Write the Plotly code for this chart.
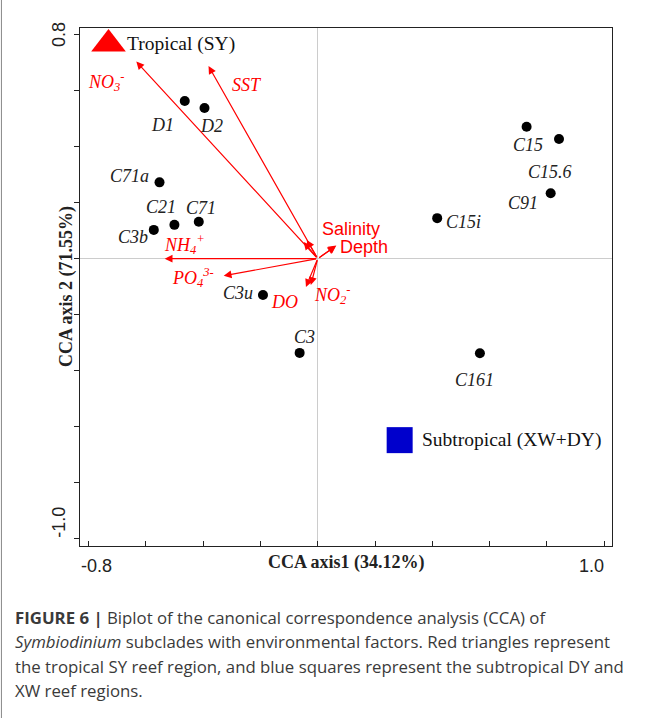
import plotly.graph_objects as go

# Subclade scores (CCA axis 1, CCA axis 2)
subclades = ["D1", "D2", "C71a", "C21", "C71", "C3b", "C3u", "C3",
             "C15i", "C15", "C15.6", "C91", "C161"]
sub_x = [-0.464, -0.395, -0.552, -0.500, -0.415, -0.572, -0.191, -0.063,
         0.417, 0.729, 0.842, 0.813, 0.566]
sub_y = [0.564, 0.539, 0.273, 0.121, 0.132, 0.103, -0.130, -0.337,
         0.145, 0.472, 0.428, 0.234, -0.338]

# Reef regions
regions = ["Tropical (SY)", "Subtropical (XW+DY)"]
region_x = [-0.730, 0.286]
region_y = [0.768, -0.649]

# Environmental vectors
env_names = ["NO<sub>3</sub><sup>-</sup>", "SST", "NH<sub>4</sub><sup>+</sup>",
             "PO<sub>4</sub><sup>3-</sup>", "Salinity", "Depth", "DO",
             "NO<sub>2</sub><sup>-</sup>"]
env_x = [-0.633, -0.381, -0.534, -0.328, 0.065, 0.062, -0.041, -0.024]
env_y = [0.705, 0.689, 0.000, -0.061, 0.047, 0.044, -0.101, -0.094]
# short vectors with no label
minor_x = [-0.049, -0.038]
minor_y = [0.060, 0.067]

x_ticks = [-0.8, -0.6, -0.4, -0.2, 0.0, 0.2, 0.4, 0.6, 0.8, 1.0]
y_ticks = [-1.0, -0.8, -0.6, -0.4, -0.2, 0.0, 0.2, 0.4, 0.6, 0.8]
x_end_labels = ["-0.8", "1.0"]
y_end_labels = ["-1.0", "0.8"]

caption_lines = [
    "<b>FIGURE 6 |</b> Biplot of the canonical correspondence analysis (CCA) of",
    "<i>Symbiodinium</i> subclades with environmental factors. Red triangles represent",
    "the tropical SY reef region, and blue squares represent the subtropical DY and",
    "XW reef regions.",
]

# label offsets in pixels (dx, dy)
sub_offsets = [(-22, -24), (7, -18), (-30, 6), (-13, 18), (2, 14), (-21, -7),
               (-25, 2), (5, 16), (26, -4), (1, -18), (-9, -33), (-28, -10),
               (-5, -27)]
env_offsets = [(-30, -20), (38, -19), (20, 14), (-31, -2), (15, 17), (29, -1),
               (-21, -15), (22, -10)]

RED = "#ff0000"
SERIF = "Liberation Serif"
SANS = "Liberation Sans"

fig = go.Figure()

fig.add_trace(go.Scatter(
    x=sub_x, y=sub_y, mode="markers",
    marker=dict(color="black", size=10), hoverinfo="text", text=subclades,
    showlegend=False))

fig.add_trace(go.Scatter(
    x=region_x[:1], y=region_y[:1], mode="markers",
    marker=dict(symbol="triangle-up", color=RED, size=30, line=dict(width=0)),
    showlegend=False, hoverinfo="skip"))
fig.add_trace(go.Scatter(
    x=region_x[1:], y=region_y[1:], mode="markers",
    marker=dict(symbol="square", color="#0000cc", size=26, line=dict(width=0)),
    showlegend=False, hoverinfo="skip"))

ann = []

# arrows from the origin
for ex, ey in list(zip(env_x, env_y)) + list(zip(minor_x, minor_y)):
    ann.append(dict(x=ex, y=ey, ax=0, ay=0, xref="x", yref="y",
                    axref="x", ayref="y", text="", showarrow=True,
                    arrowhead=2, arrowsize=1.3, arrowwidth=1.2,
                    arrowcolor=RED, standoff=0))

for name, ex, ey, (dx, dy) in zip(env_names, env_x, env_y, env_offsets):
    if name in ("Salinity", "Depth"):
        txt, fam, sz = name, SANS, 18
    else:
        txt, fam, sz = "<i>" + name + "</i>", SERIF, 18
    ann.append(dict(x=ex, y=ey, xref="x", yref="y", text=txt,
                    showarrow=False, xshift=dx, yshift=dy,
                    font=dict(family=fam, size=sz, color=RED)))

for name, sx, sy, (dx, dy) in zip(subclades, sub_x, sub_y, sub_offsets):
    ann.append(dict(x=sx, y=sy, xref="x", yref="y", text="<i>" + name + "</i>",
                    showarrow=False, xshift=dx, yshift=dy,
                    font=dict(family=SERIF, size=18, color="#222222")))

for name, rx, ry, dx in zip(regions, region_x, region_y, [16, 20]):
    ann.append(dict(x=rx, y=ry, xref="x", yref="y", text=name,
                    showarrow=False, xanchor="left", xshift=dx,
                    font=dict(family=SERIF, size=19.5, color="#111111")))

# end tick labels, kept inside the tick span
ann.append(dict(x=x_ticks[0], y=0, xref="x", yref="paper", text=x_end_labels[0],
                showarrow=False, xanchor="left", yanchor="top", xshift=-9,
                yshift=-8, font=dict(family=SANS, size=18, color="#222")))
ann.append(dict(x=x_ticks[-1], y=0, xref="x", yref="paper", text=x_end_labels[1],
                showarrow=False, xanchor="right", yanchor="top", xshift=2,
                yshift=-8, font=dict(family=SANS, size=18, color="#222")))
ann.append(dict(x=0, y=y_ticks[0], xref="paper", yref="y", text=y_end_labels[0],
                showarrow=False, textangle=-90, xanchor="right", yanchor="bottom",
                xshift=-9, yshift=-2, font=dict(family=SANS, size=18, color="#222")))
ann.append(dict(x=0, y=y_ticks[-1], xref="paper", yref="y", text=y_end_labels[1],
                showarrow=False, textangle=-90, xanchor="right",
                xshift=-9, font=dict(family=SANS, size=18, color="#222")))

# axis titles
ann.append(dict(x=0.5, y=0, xref="paper", yref="paper",
                text="<b>CCA axis1 (34.12%)</b>", showarrow=False,
                yanchor="middle", yshift=-16,
                font=dict(family=SERIF, size=18, color="#222")))
ann.append(dict(x=0, y=0.5, xref="paper", yref="paper",
                text="<b>CCA axis 2 (71.55%)</b>", showarrow=False,
                textangle=-90, xanchor="center", xshift=-14,
                font=dict(family=SERIF, size=18, color="#222")))

# caption
W, H = 531.5, 518.0
for i, line in enumerate(caption_lines):
    ann.append(dict(x=(14 - 80.5) / W, y=(546 - (617 + 24.5 * i)) / H,
                    xref="paper", yref="paper", text=line, showarrow=False,
                    xanchor="left", yanchor="middle",
                    font=dict(family="Open Sans", size=16.8, color="#3a3a3a")))

fig.update_layout(
    width=662, height=718,
    margin=dict(l=80, r=50, t=28, b=172),
    paper_bgcolor="white", plot_bgcolor="white",
    annotations=ann,
    shapes=[dict(type="line", xref="paper", yref="paper",
                 x0=(2 - 80.5) / W, x1=(2 - 80.5) / W,
                 y0=(546 - 718) / H, y1=546 / H,
                 line=dict(color="#888888", width=1))],
)

fig.update_xaxes(range=[-0.8295, 1.027], tickvals=x_ticks, showticklabels=False,
                 ticks="inside", ticklen=5, tickcolor="#222", showgrid=False,
                 zeroline=True, zerolinecolor="#cccccc", zerolinewidth=1,
                 showline=True, linecolor="#222", linewidth=1, mirror=True)
fig.update_yaxes(range=[-1.0276, 0.825], tickvals=y_ticks, showticklabels=False,
                 ticks="outside", ticklen=5, tickcolor="#222", showgrid=False,
                 zeroline=True, zerolinecolor="#cccccc", zerolinewidth=1,
                 showline=True, linecolor="#222", linewidth=1, mirror=True)

fig.write_html("out.html")
